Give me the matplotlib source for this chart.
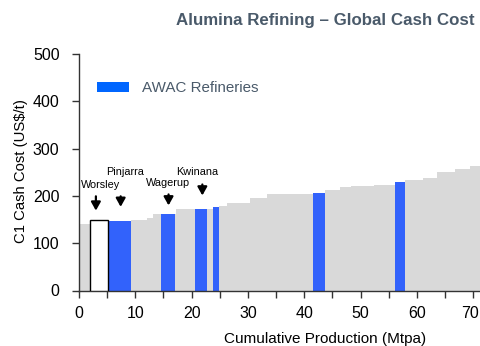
import matplotlib.pyplot as plt
import matplotlib.transforms as mtransforms
from matplotlib.patches import Patch

plt.rcParams['font.family'] = ['Liberation Sans', 'DejaVu Sans']

# capacity of each refinery (Mtpa) along the curve, and its cash cost (US$/t)
capacities = [1.9, 3.3, 4.0, 1.3, 1.5, 1.2, 1.4, 2.4, 0.3, 3.3, 2.1, 1.1, 1.1,
              1.3, 4.2, 2.9, 7.0, 1.2, 2.2, 2.7, 1.9, 4.1, 3.7, 1.7, 3.2, 2.5,
              3.3, 2.6, 2.6]
costs = [140, 148, 146, 148, 150, 154, 162, 162, 162, 172, 172, 172, 176,
         179, 184, 196, 203, 205, 207, 213, 219, 221, 224, 229, 234, 238,
         250, 257, 263]
# 'o' = other, 'a' = AWAC, 'w' = Worsley
kinds = ['o', 'w', 'a', 'o', 'o', 'o', 'o', 'a', 'o', 'o', 'a', 'o', 'a',
         'o', 'o', 'o', 'o', 'o', 'a', 'o', 'o', 'o', 'o', 'a', 'o', 'o',
         'o', 'o', 'o']

# callouts
labels = ['Worsley', 'Pinjarra', 'Wagerup', 'Kwinana']
arrow_x = [3.0, 7.4, 15.9, 21.9]
arrow_start = [205, 205, 209, 230]
arrow_tip = [163, 171, 174, 195]
text_x = [3.9, 8.1, 15.8, 21.0]
text_y = [223, 251, 227, 251]

lefts = []
pos = 0.0
for w in capacities:
    lefts.append(pos)
    pos += w

fig = plt.figure(figsize=(4.8, 3.46), dpi=100)
ax = fig.add_axes([79 / 480, 1 - 290.5 / 346, 1 - 79 / 480, (290.5 - 54) / 346])

face = {'o': '#d9d9d9', 'a': '#3262fb'}
for x, w, c, k in zip(lefts, capacities, costs, kinds):
    if k == 'w':
        ax.bar(x, c, width=w, align='edge', color='white', edgecolor='black',
               linewidth=1.0, zorder=3)
    else:
        ax.bar(x, c, width=w, align='edge', color=face[k], linewidth=0, zorder=2)

for x, ys, yt in zip(arrow_x, arrow_start, arrow_tip):
    ax.annotate('', xy=(x, yt), xytext=(x, ys),
                arrowprops=dict(arrowstyle='-|>,head_width=0.28,head_length=0.5',
                                color='black', lw=1.6), zorder=4)
for name, tx, ty in zip(labels, text_x, text_y):
    ax.text(tx, ty, name, ha='center', va='center', fontsize=7.8, color='black')

ax.set_xlim(0, 71.2)
ax.set_ylim(0, 500)
ax.set_xticks(range(0, 71, 10))
ax.set_xticks(range(5, 71, 10), minor=True)
ax.set_yticks(range(0, 501, 100))
ax.tick_params(axis='both', which='both', direction='out', length=5, width=1,
               colors='#333333', labelsize=11.5, labelcolor='black')
ax.tick_params(axis='x', pad=6)
ax.tick_params(axis='y', pad=9)
# nudge the last x label so it stays inside the picture
last = ax.get_xticklabels()[-1]
last.set_transform(last.get_transform() +
                   mtransforms.ScaledTranslation(-3 / 100, 0, fig.dpi_scale_trans))

for s in ['top', 'right']:
    ax.spines[s].set_visible(False)
for s in ['left', 'bottom']:
    ax.spines[s].set_color('#333333')
    ax.spines[s].set_linewidth(1.0)

ax.set_xlabel('Cumulative Production (Mtpa)', fontsize=11)
ax.xaxis.set_label_coords((325 - 79) / 401, (290.5 - 339) / 236.5)
ax.xaxis.label.set_va('center')
ax.set_ylabel('C1 Cash Cost (US$/t)', fontsize=10.7)
ax.yaxis.set_label_coords((21 - 79) / 401, (290.5 - 171.5) / 236.5)
ax.yaxis.label.set_va('center')

fig.text(475 / 480, 1 - 21 / 346, 'Alumina Refining \u2013 Global Cash Cost', ha='right',
         va='center', fontsize=12.2, fontweight='bold', color='#4a5a6a')

handle = Patch(facecolor='#0066ff', edgecolor='none')
fig.legend([handle], ['AWAC Refineries'], loc='center left',
           bbox_to_anchor=(97 / 480, 1 - 88.5 / 346), frameon=False,
           borderpad=0, borderaxespad=0, handlelength=2.1, handleheight=0.6,
           handletextpad=0.85, prop={'size': 10.9}, labelcolor='#4a5a6a')

fig.savefig('out.png', dpi=100)
